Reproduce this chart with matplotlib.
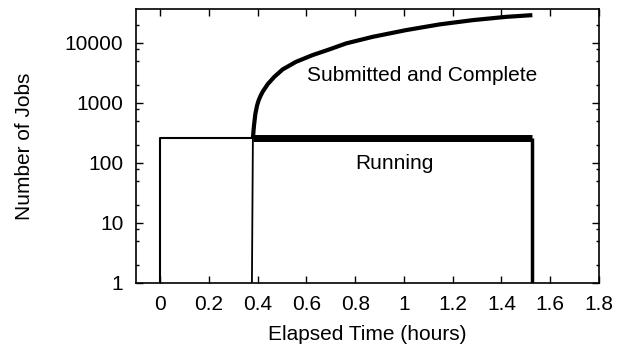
import matplotlib
matplotlib.use("Agg")
import matplotlib.pyplot as plt
from matplotlib.ticker import FixedLocator, NullFormatter

plt.rcParams['font.family'] = ['Liberation Sans', 'DejaVu Sans']

# Running jobs (hours, count)
running_x = [0.0, 0.0, 0.38, 1.525, 1.525]
running_y = [1, 256, 256, 256, 1]

# Submitted and complete jobs (hours, count)
complete_x = [0.376, 0.380, 0.384, 0.390, 0.397, 0.404, 0.412, 0.420, 0.441,
              0.468, 0.502, 0.557, 0.625, 0.694, 0.763, 0.872, 1.009, 1.146,
              1.283, 1.420, 1.527]
complete_y = [1, 256, 400, 650, 900, 1110, 1320, 1525, 2050,
              2710, 3600, 4820, 6240, 7770, 9780, 12590, 16290, 20270,
              23900, 27100, 28950]

x_ticks = [0, 0.2, 0.4, 0.6, 0.8, 1, 1.2, 1.4, 1.6, 1.8]
x_tick_labels = ['0', '0.2', '0.4', '0.6', '0.8', '1', '1.2', '1.4', '1.6', '1.8']
y_ticks = [1, 10, 100, 1000, 10000]
y_tick_labels = ['1', '10', '100', '1000', '10000']
y_minor = [m * 10 ** e for e in range(0, 5) for m in (2, 5, 8)]

fig = plt.figure(figsize=(6.18, 3.45), dpi=100)
ax = fig.add_axes([0.220, 0.1806, 0.749, 0.792])

# thin vertical part of the complete curve
ax.plot(complete_x[:2], complete_y[:2], color='black', lw=1.3, solid_capstyle='butt')
ax.plot(complete_x[1:], complete_y[1:], color='black', lw=3.0,
        solid_joinstyle='round', solid_capstyle='butt')
# running: first box thin, later noisy band thick
ax.plot(running_x[:3], running_y[:3], color='black', lw=1.5)
ax.plot(running_x[2:4], running_y[2:4], color='black', lw=5.0, solid_capstyle='butt')
ax.plot(running_x[3:], running_y[3:], color='black', lw=2.5, solid_capstyle='butt')

ax.set_yscale('log')
ax.set_xlim(-0.1, 1.8)
ax.set_ylim(1, 36000)
ax.set_xticks(x_ticks)
ax.set_xticklabels(x_tick_labels)
ax.set_yticks(y_ticks)
ax.set_yticklabels(y_tick_labels)
ax.yaxis.set_minor_locator(FixedLocator(y_minor))
ax.yaxis.set_minor_formatter(NullFormatter())

ax.tick_params(axis='both', which='major', direction='in', length=5, width=1,
               top=True, right=True, labelsize=15, pad=9)
ax.tick_params(axis='both', which='minor', direction='in', length=2.5, width=1,
               top=True, right=True)
for s in ax.spines.values():
    s.set_linewidth(1.2)

ax.set_xlabel('Elapsed Time (hours)', fontsize=15, labelpad=8)
ax.set_ylabel('Number of Jobs', fontsize=15, labelpad=22)

ax.text(1.074, 2900, 'Submitted and Complete', fontsize=15, ha='center', va='center')
ax.text(0.96, 99, 'Running', fontsize=15, ha='center', va='center')

fig.savefig('out.png', dpi=100)
